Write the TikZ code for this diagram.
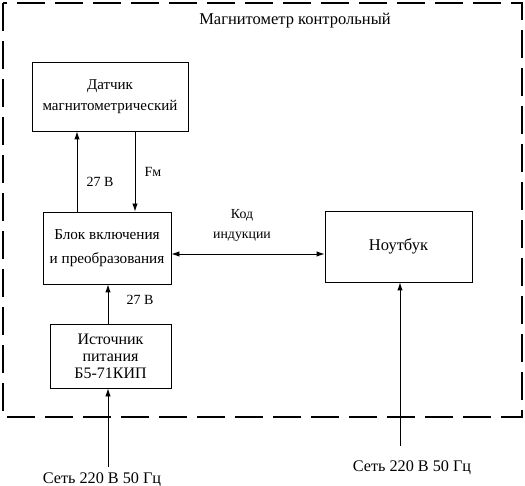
\documentclass[tikz,border=0pt]{standalone}
\usepackage{fontspec}
\setmainfont{Liberation Serif}
\usetikzlibrary{arrows.meta}
\begin{document}
\begin{tikzpicture}[x=1pt,y=-1pt,
  blk/.style={draw,line width=0.9pt,inner sep=0pt,align=center},
  lbl/.style={inner sep=0pt,align=center,font=\fontsize{14}{17}\selectfont},
  arr/.style={line width=0.9pt,-{Latex[length=8pt,width=5.5pt]}},
  darr/.style={line width=0.9pt,{Latex[length=8pt,width=5.5pt]}-{Latex[length=8pt,width=5.5pt]}},
  frame/.style={draw,line width=1.6pt,dash pattern=on 28pt off 10pt}]
\useasboundingbox (0,0) rectangle (525,486);
\draw[frame] (3,3) rectangle (522,417);
\node[lbl,font=\fontsize{16.5}{19}\selectfont] (title) at (295,21) {Магнитометр контрольный};
\node[blk,minimum width=156pt,minimum height=69pt,font=\fontsize{15}{21}\selectfont] (dat) at (110,96.5) {Датчик\\магнитометрический};
\node[blk,minimum width=128pt,minimum height=72pt,font=\fontsize{15.2}{24}\selectfont] (blok) at (107,248) {Блок включения\\и преобразования};
\node[blk,minimum width=147pt,minimum height=71pt,font=\fontsize{16.5}{19}\selectfont] (nb) at (398.5,246.5) {Ноутбук};
\node[blk,minimum width=121pt,minimum height=64pt,font=\fontsize{16}{17}\selectfont] (ist) at (110.5,356) {Источник\\питания\\Б5-71КИП};
\draw[arr] (blok.north -| 77,0) -- (dat.south -| 77,0);
\draw[arr] (dat.south -| 135,0) -- (blok.north -| 135,0);
\node[lbl] (l27a) at (100,182) {27 В};
\node[lbl] (lfm) at (153,172) {Fм};
\draw[darr] (blok.east |- 0,254) -- (nb.west |- 0,254);
\node[lbl,font=\fontsize{13.8}{20}\selectfont] (kod) at (242,225) {Код\\индукции};
\draw[arr] (ist.north -| 108,0) -- (blok.south -| 108,0);
\node[lbl] (l27b) at (140,300) {27 В};
\node[lbl,font=\fontsize{16.2}{19}\selectfont] (net1) at (102,480) {Сеть 220 В 50 Гц};
\coordinate (s1) at (108,467);
\draw[arr] (s1) -- (ist.south -| s1);
\node[lbl,font=\fontsize{16.2}{19}\selectfont] (net2) at (412,468) {Сеть 220 В 50 Гц};
\coordinate (s2) at (400,446);
\draw[arr] (s2) -- (nb.south -| s2);
\end{tikzpicture}
\end{document}
